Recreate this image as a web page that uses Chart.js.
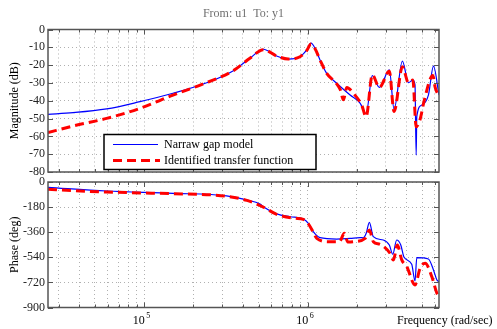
<!DOCTYPE html>
<html>
<head>
<meta charset="utf-8">
<script src="https://cdn.jsdelivr.net/npm/chart.js@4.4.0/dist/chart.umd.min.js"></script>
<style>
body{margin:0;background:#fff;}
#wrap{position:relative;width:497px;height:329px;}
#wrap canvas{position:absolute;left:0;top:0;}
</style>
</head>
<body>
<div id="wrap">
<canvas id="phase" width="497" height="329"></canvas>
<canvas id="mag" width="497" height="329"></canvas>
</div>
<script>
const FONT = "'Liberation Serif', 'Times New Roman', serif";
Chart.defaults.font.family = FONT;
Chart.defaults.font.size = 12;

/* frequency axis, rad/sec */
const freqMin = 2.58e4;
const freqMax = 6.35e6;
const freqGrid = [3e4,4e4,5e4,6e4,7e4,8e4,9e4,1e5,2e5,3e5,4e5,5e5,6e5,7e5,8e5,9e5,1e6,2e6,3e6,4e6,5e6,6e6];
const freqDecades = [1e5,1e6];

const magTicks = [0,-10,-20,-30,-40,-50,-60,-70,-80];
const phaseTicks = [0,-180,-360,-540,-720,-900];

/* narrow gap model */
const magFreqModel = [2.58e4,3.67e4,5.89e4,9.42e4,1.50e5,2.41e5,3.51e5,4.45e5,5.35e5,6.46e5,7.60e5,8.97e5,9.86e5,1.047e6,1.109e6,1.189e6,1.306e6,1.503e6,1.816e6,2.089e6,2.275e6,2.483e6,2.742e6,3.155e6,3.373e6,3.793e6,4.130e6,4.395e6,4.529e6,4.603e6,4.645e6,4.989e6,5.470e6,5.875e6,6.353e6];
const magModel = [-47.6,-46.7,-44.6,-40.5,-35.8,-29.9,-23.1,-16.0,-11.1,-14.9,-16.6,-15.3,-11.5,-7.7,-10.6,-17.1,-24.6,-30.2,-36.8,-41.3,-47.3,-25.9,-32.5,-22.7,-44.8,-17.7,-29.9,-28.4,-31.0,-70.5,-49.0,-42.4,-36.8,-20.6,-36.8];

const phaseFreqModel = [2.58e4,5.89e4,1.50e5,3.19e5,4.24e5,5.11e5,5.35e5,6.46e5,7.80e5,9.40e5,1.009e6,1.081e6,1.189e6,1.503e6,1.816e6,2.089e6,2.188e6,2.275e6,2.382e6,2.518e6,2.897e6,3.155e6,3.311e6,3.499e6,3.707e6,3.882e6,4.325e6,4.529e6,4.645e6,5.470e6,5.875e6,6.166e6,6.353e6];
const phaseModel = [-38,-64.5,-81,-100,-129,-158,-177,-229,-249,-265,-296,-356,-399,-409,-404,-399,-400,-370,-289,-392,-416,-452,-518,-416,-452,-540,-590,-710,-543,-552,-631,-703,-715];

/* identified transfer function */
const magFreqIdent = [2.58e4,3.67e4,5.89e4,9.42e4,1.50e5,2.20e5,3.51e5,4.45e5,5.35e5,6.46e5,7.60e5,8.97e5,9.86e5,1.047e6,1.109e6,1.189e6,1.306e6,1.503e6,1.585e6,1.652e6,1.734e6,1.901e6,2.138e6,2.275e6,2.483e6,2.742e6,3.155e6,3.373e6,3.793e6,4.130e6,4.395e6,4.603e6,4.864e6,5.164e6,5.821e6,6.012e6,6.353e6];
const magIdent = [-57.9,-54.2,-49.9,-44.3,-36.8,-31.2,-23.1,-16.0,-11.3,-14.9,-16.6,-15.3,-11.8,-8.2,-10.8,-17.1,-24.6,-30.5,-34.0,-39.5,-32.5,-35.8,-42.4,-49.0,-25.5,-32.5,-23.5,-46.1,-20.9,-29.9,-28.4,-54.6,-50.5,-39.6,-25.8,-32.3,-37.7];

const phaseFreqIdent = [2.58e4,3.67e4,5.89e4,9.42e4,1.50e5,3.19e5,4.24e5,5.35e5,6.46e5,8.34e5,9.40e5,1.009e6,1.081e6,1.135e6,1.368e6,1.538e6,1.574e6,1.675e6,1.758e6,1.901e6,2.244e6,2.382e6,2.518e6,2.767e6,3.184e6,3.342e6,3.532e6,3.758e6,4.036e6,4.529e6,4.864e6,5.224e6,5.741e6,6.166e6,6.353e6];
const phaseIdent = [-52,-62,-72,-78,-84,-102,-132,-180,-232,-260,-268,-300,-360,-404,-428,-428,-425,-368,-430,-428,-404,-344,-428,-447,-511,-559,-452,-559,-607,-739,-619,-583,-679,-798,-820];

const seriesNames = ['Narraw gap model','Identified transfer function'];
const BLUE = '#0000ff';
const RED = '#ff0000';
const RED_DASH = [9,5];

function points(xs, ys){
  return xs.map((f,i) => ({x:f, y:ys[i]}));
}

/* axes box, inner ticks and the text around each axes */
const bodeFrame = {
  id:'bodeFrame',
  afterDraw(chart, args, opts){
    const {ctx, chartArea:a, scales:{x, y}} = chart;
    ctx.save();

    ctx.strokeStyle = '#555';
    ctx.lineWidth = 1;
    ctx.beginPath();
    freqGrid.forEach(f => {
      const px = Math.round(x.getPixelForValue(f)) + 0.5;
      const len = freqDecades.includes(f) ? 5 : 3;
      ctx.moveTo(px, a.top); ctx.lineTo(px, a.top + len);
      ctx.moveTo(px, a.bottom); ctx.lineTo(px, a.bottom - len);
    });
    y.ticks.forEach(t => {
      const py = Math.round(y.getPixelForValue(t.value)) + 0.5;
      ctx.moveTo(a.left, py); ctx.lineTo(a.left + 5, py);
      ctx.moveTo(a.right, py); ctx.lineTo(a.right - 5, py);
    });
    ctx.stroke();

    ctx.lineWidth = 1.5;
    ctx.strokeRect(a.left, a.top, a.right - a.left, a.bottom - a.top);

    ctx.fillStyle = '#000';
    ctx.font = '12px ' + FONT;
    ctx.textAlign = 'center';
    ctx.textBaseline = 'middle';
    ctx.save();
    ctx.translate(15, (a.top + a.bottom) / 2);
    ctx.rotate(-Math.PI / 2);
    ctx.fillText(opts.yTitle, 0, 0);
    ctx.restore();

    if (opts.title) {
      ctx.fillStyle = '#707070';
      ctx.fillText(opts.title, (a.left + a.right) / 2, 14);
    }

    if (opts.legend) {
      const lx = a.left + 56, ly = a.bottom - 37.5, lw = 212, lh = 35;
      ctx.fillStyle = '#fff';
      ctx.fillRect(lx, ly, lw, lh);
      ctx.strokeStyle = '#000';
      ctx.lineWidth = 1.5;
      ctx.strokeRect(lx, ly, lw, lh);

      const rows = [ly + 10, ly + 26];
      ctx.lineWidth = 1.2;
      ctx.strokeStyle = BLUE;
      ctx.beginPath(); ctx.moveTo(lx + 9, rows[0]); ctx.lineTo(lx + 54, rows[0]); ctx.stroke();
      ctx.lineWidth = 3;
      ctx.strokeStyle = RED;
      ctx.setLineDash(RED_DASH);
      ctx.beginPath(); ctx.moveTo(lx + 9, rows[1]); ctx.lineTo(lx + 56, rows[1]); ctx.stroke();
      ctx.setLineDash([]);

      ctx.fillStyle = '#000';
      ctx.textAlign = 'left';
      seriesNames.forEach((s,i) => ctx.fillText(s, lx + 60, rows[i]));
    }

    if (opts.freqLabels) {
      ctx.fillStyle = '#000';
      freqDecades.forEach(f => {
        const px = x.getPixelForValue(f);
        const exp = String(Math.round(Math.log10(f)));
        ctx.font = '12px ' + FONT;
        ctx.textAlign = 'right';
        ctx.fillText('10', px + 0.5, a.bottom + 13);
        ctx.font = '8px ' + FONT;
        ctx.textAlign = 'left';
        ctx.fillText(exp, px + 2, a.bottom + 8);
      });
      ctx.font = '12px ' + FONT;
      ctx.textAlign = 'left';
      ctx.fillText('Frequency (rad/sec)', 397, a.bottom + 13.5);
    }
    ctx.restore();
  }
};

function bodeOptions(yTicks, padding, frame){
  return {
    responsive:false,
    animation:false,
    layout:{padding:padding},
    plugins:{
      legend:{display:false},
      tooltip:{enabled:false},
      bodeFrame:frame
    },
    scales:{
      x:{
        type:'logarithmic',
        min:freqMin,
        max:freqMax,
        afterBuildTicks:s => { s.ticks = freqGrid.map(v => ({value:v})); },
        afterFit:s => { s.height = 0; },
        ticks:{display:false},
        grid:{color:'#b0b0b0', lineWidth:1, drawTicks:false},
        border:{display:false, dash:[1,3]}
      },
      y:{
        min:yTicks[yTicks.length - 1],
        max:yTicks[0],
        afterBuildTicks:s => { s.ticks = yTicks.map(v => ({value:v})); },
        afterFit:s => { s.width = 48; },
        ticks:{
          padding:3,
          color:'#222',
          font:{family:FONT, size:12},
          callback:v => String(v)
        },
        grid:{color:'#b0b0b0', lineWidth:1, drawTicks:false},
        border:{display:false, dash:[1,3]}
      }
    }
  };
}

function lineSet(label, data, color, width, dash, order){
  return {
    label:label,
    data:data,
    borderColor:color,
    borderWidth:width,
    borderDash:dash,
    pointRadius:0,
    fill:false,
    cubicInterpolationMode:'monotone',
    order:order
  };
}

new Chart(document.getElementById('mag'), {
  type:'line',
  data:{
    datasets:[
      lineSet(seriesNames[0], points(magFreqModel, magModel), BLUE, 1.2, [], 1),
      lineSet(seriesNames[1], points(magFreqIdent, magIdent), RED, 3, RED_DASH, 0)
    ]
  },
  options:bodeOptions(magTicks, {left:0, right:58, top:29.5, bottom:157},
    {yTitle:'Magnitude (dB)', title:'From: u1  To: y1', legend:true}),
  plugins:[bodeFrame]
});

new Chart(document.getElementById('phase'), {
  type:'line',
  data:{
    datasets:[
      lineSet(seriesNames[0], points(phaseFreqModel, phaseModel), BLUE, 1.2, [], 1),
      lineSet(seriesNames[1], points(phaseFreqIdent, phaseIdent), RED, 3, RED_DASH, 0)
    ]
  },
  options:bodeOptions(phaseTicks, {left:0, right:58, top:182, bottom:21.5},
    {yTitle:'Phase (deg)', freqLabels:true}),
  plugins:[bodeFrame]
});
</script>
</body>
</html>
